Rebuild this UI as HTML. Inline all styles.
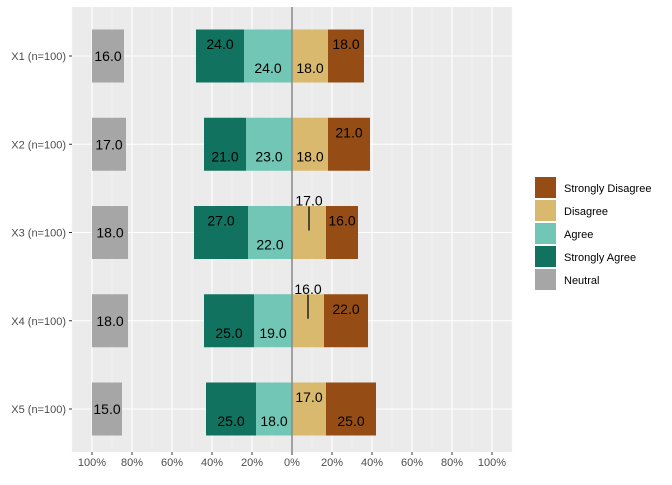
<!DOCTYPE html>
<html><head><meta charset="utf-8"><style>
body{margin:0;background:#fff;}
svg{font-family:"Liberation Sans",sans-serif;}
</style></head><body>
<svg id="c" width="672" height="480" viewBox="0 0 672 480"></svg>
<script>
const categories=["X1 (n=100)","X2 (n=100)","X3 (n=100)","X4 (n=100)","X5 (n=100)"];
const stronglyAgree=[24,21,27,25,25];
const agree=[24,23,22,19,18];
const disagree=[18,18,17,16,17];
const stronglyDisagree=[18,21,16,22,25];
const neutral=[16,17,18,18,15];
const tickValues=[-100,-80,-60,-40,-20,0,20,40,60,80,100];
const tickLabels=["100%","80%","60%","40%","20%","0%","20%","40%","60%","80%","100%"];
// label placement per series (t=top, b=bottom, a=above bar)
const saPos=["t","b","t","b","b"], agPos=["b","b","b","b","b"], diPos=["b","b","a","a","t"], sdPos=["t","t","t","t","b"];

const NS="http://www.w3.org/2000/svg", svg=document.getElementById('c');
const L=72,R=512,T=7,B=452;
const x=v=>292+v*2;
const rowY=i=>56+i*88.25;
const BH=53;
function el(t,a,p){const e=document.createElementNS(NS,t);for(const k in a)e.setAttribute(k,a[k]);(p||svg).appendChild(e);return e;}
let e;
e=el('rect',{x:L,y:T,width:R-L,height:B-T,fill:'#EBEBEB'});

for(let v=-110;v<=110;v+=10){
  if(v%20!==0){e=el('line',{x1:x(v),x2:x(v),y1:T,y2:B,stroke:'#F5F5F5','stroke-width':0.6});
  }
}
tickValues.forEach((v,i)=>{
  e=el('line',{x1:x(v),x2:x(v),y1:T,y2:B,stroke:'#fff','stroke-width':1.1});
  
  e=el('line',{x1:x(v),x2:x(v),y1:B,y2:B+3,stroke:'#333'});
  
  e=el('text',{x:x(v),y:B+14,'text-anchor':'middle','font-size':11,fill:'#4D4D4D'});e.textContent=tickLabels[i];
  
});
categories.forEach((c,i)=>{
  const y=rowY(i);
  e=el('line',{x1:L,x2:R,y1:y,y2:y,stroke:'#fff','stroke-width':1.1});
  
  e=el('line',{x1:L-3,x2:L,y1:y,y2:y,stroke:'#333'});
  
  e=el('text',{x:L-6,y:y+4,'text-anchor':'end','font-size':11,fill:'#4D4D4D'});e.textContent=c;
  
});
function seg(x0,x1,y,col,name,val,pos){
  const r=el('rect',{x:Math.min(x0,x1),y:y-BH/2,width:Math.abs(x1-x0),height:BH,fill:col});
  
  const cx=(x0+x1)/2;let ty=y;
  if(pos==='t')ty=y-12;else if(pos==='b')ty=y+12;else if(pos==='a'){ty=y-32;
    const ln=el('line',{x1:cx,x2:cx,y1:y-26,y2:y-2,stroke:'#222','stroke-width':1.5});
    }
  const t=el('text',{x:cx,y:ty+5,'text-anchor':'middle','font-size':14,fill:'#000'});t.textContent=val.toFixed(1);
  
}
categories.forEach((c,i)=>{
  const y=rowY(i);
  seg(x(0),x(-agree[i]),y,'#71C6B6','bar-agree',agree[i],agPos[i]);
  seg(x(-agree[i]),x(-agree[i]-stronglyAgree[i]),y,'#11725F','bar-strongly-agree',stronglyAgree[i],saPos[i]);
  seg(x(0),x(disagree[i]),y,'#D9B96E','bar-disagree',disagree[i],diPos[i]);
  seg(x(disagree[i]),x(disagree[i]+stronglyDisagree[i]),y,'#964D15','bar-strongly-disagree',stronglyDisagree[i],sdPos[i]);
  seg(x(-100),x(-100+neutral[i]),y,'#A6A6A6','bar-neutral',neutral[i],'m');
});
e=el('line',{x1:x(0),x2:x(0),y1:T,y2:B,stroke:'#888','stroke-width':1.5});

const legNames=["Strongly Disagree","Disagree","Agree","Strongly Agree","Neutral"];
const legCols=['#964D15','#D9B96E','#71C6B6','#11725F','#A6A6A6'];
legNames.forEach((n,i)=>{
  const y=177+i*23;
  e=el('rect',{x:535,y:y,width:21,height:21,fill:legCols[i]});
  
  e=el('text',{x:564,y:y+15,'font-size':11,fill:'#000'});e.textContent=n;
  
});
</script>
</body></html>
